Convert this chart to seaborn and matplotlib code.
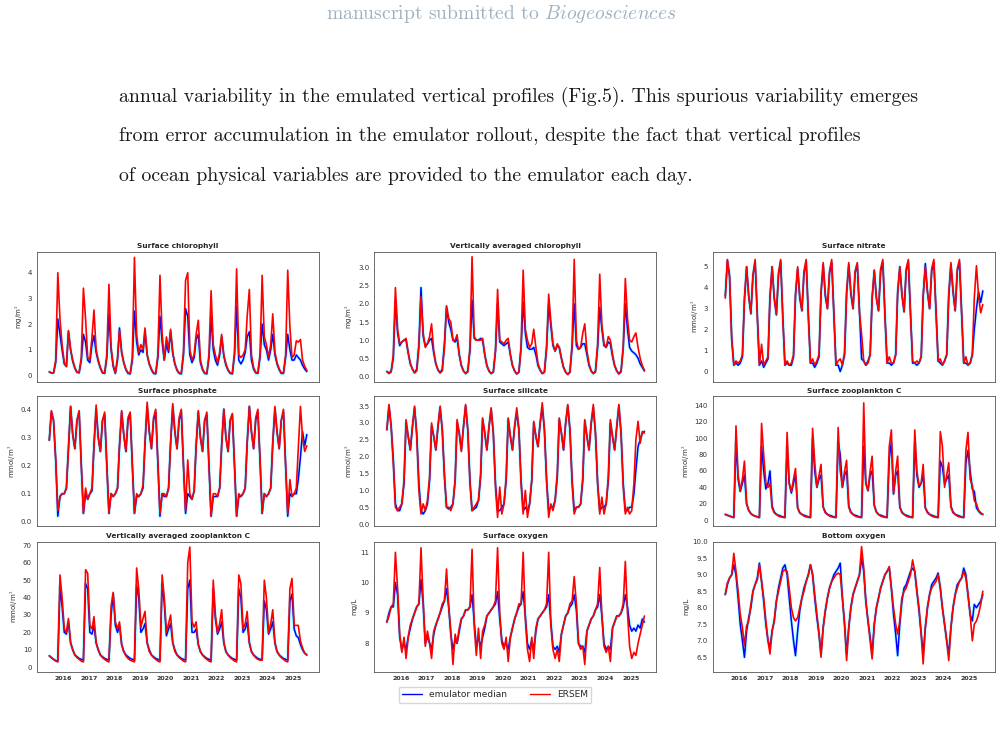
import pandas as pd
import matplotlib
matplotlib.use('Agg')
import matplotlib.pyplot as plt
import matplotlib.dates as mdates
from matplotlib.lines import Line2D
from matplotlib.ticker import MultipleLocator, FixedLocator
import seaborn as sns

# monthly samples (15th of each month), Jun 2015 .. Jul 2025
dates = pd.date_range('2015-06-01', '2025-07-01', freq='MS') + pd.Timedelta(days=14)
tick_years = list(range(2016, 2026))

# each row = Jun .. May, last row = Jun, Jul 2025
chl_surf_ersem = [
    0.13, 0.10, 0.10, 0.6, 4.0, 2.2, 1.2, 0.5, 0.35, 1.75, 1.0, 0.6,
    0.3, 0.13, 0.12, 0.7, 3.4, 2.2, 0.7, 0.6, 1.5, 2.55, 1.0, 0.6,
    0.3, 0.12, 0.1, 0.8, 3.55, 1.1, 0.4, 0.1, 0.7, 1.75, 0.9, 0.5,
    0.25, 0.1, 0.08, 0.7, 4.6, 1.6, 0.9, 1.2, 1.0, 1.85, 0.8, 0.45,
    0.25, 0.1, 0.08, 0.8, 3.9, 1.6, 0.6, 1.5, 1.0, 1.8, 0.9, 0.45,
    0.22, 0.1, 0.08, 0.9, 3.7, 4.0, 1.0, 0.6, 0.8, 1.6, 2.15, 0.6,
    0.25, 0.1, 0.08, 0.8, 3.3, 1.2, 0.8, 0.5, 0.9, 1.6, 0.8, 0.45,
    0.22, 0.1, 0.08, 0.9, 4.15, 0.8, 0.7, 0.8, 1.0, 2.3, 3.35, 0.8,
    0.3, 0.12, 0.1, 0.8, 3.9, 1.5, 1.2, 0.7, 1.2, 2.4, 0.9, 0.5,
    0.25, 0.1, 0.1, 0.8, 4.1, 1.9, 0.7, 0.8, 1.35, 1.3, 1.4, 0.6,
    0.35, 0.2]
chl_surf_emu = [
    0.14, 0.10, 0.10, 0.5, 2.2, 1.6, 1.0, 0.45, 0.35, 1.7, 1.0, 0.55,
    0.28, 0.12, 0.1, 0.6, 1.6, 1.3, 0.6, 0.5, 1.2, 1.55, 0.9, 0.55,
    0.28, 0.1, 0.08, 0.7, 2.4, 1.0, 0.35, 0.08, 0.6, 1.85, 0.9, 0.5,
    0.22, 0.08, 0.06, 0.6, 2.5, 1.3, 0.8, 1.0, 0.9, 1.7, 0.8, 0.45,
    0.22, 0.08, 0.06, 0.7, 2.3, 1.3, 0.6, 1.2, 0.9, 1.7, 0.85, 0.45,
    0.2, 0.08, 0.06, 0.8, 2.6, 2.3, 0.8, 0.5, 0.7, 1.4, 1.6, 0.5,
    0.22, 0.08, 0.06, 0.7, 2.3, 1.0, 0.6, 0.4, 0.8, 1.5, 0.75, 0.4,
    0.2, 0.08, 0.06, 0.8, 2.7, 0.6, 0.45, 0.6, 0.9, 1.5, 1.7, 0.6,
    0.25, 0.1, 0.08, 0.7, 2.0, 1.2, 1.0, 0.6, 1.0, 1.6, 0.8, 0.45,
    0.22, 0.08, 0.08, 0.7, 1.6, 1.0, 0.6, 0.6, 0.8, 0.7, 0.6, 0.4,
    0.25, 0.15]

chl_vert_ersem = [
    0.13, 0.08, 0.12, 0.6, 2.45, 1.3, 0.9, 0.95, 1.0, 1.05, 0.65, 0.35,
    0.2, 0.1, 0.15, 0.8, 2.2, 1.2, 0.8, 0.9, 1.1, 1.45, 0.7, 0.35,
    0.18, 0.1, 0.15, 0.8, 1.95, 1.6, 1.5, 1.0, 1.0, 1.15, 0.6, 0.3,
    0.15, 0.08, 0.12, 0.8, 3.3, 1.1, 1.0, 1.0, 1.0, 1.05, 0.6, 0.3,
    0.15, 0.08, 0.12, 0.7, 2.4, 1.0, 0.95, 0.9, 1.0, 1.05, 0.6, 0.3,
    0.15, 0.07, 0.12, 0.8, 2.93, 1.3, 1.0, 0.8, 0.9, 1.3, 0.8, 0.35,
    0.18, 0.08, 0.12, 0.8, 2.27, 1.5, 0.9, 0.7, 0.9, 0.8, 0.5, 0.25,
    0.12, 0.05, 0.12, 0.9, 3.23, 1.0, 0.75, 0.8, 1.2, 1.45, 0.7, 0.35,
    0.15, 0.08, 0.12, 0.9, 2.82, 1.4, 0.9, 0.8, 1.1, 1.0, 0.6, 0.3,
    0.15, 0.07, 0.12, 0.8, 2.7, 1.6, 1.0, 0.95, 1.1, 1.2, 0.8, 0.5,
    0.3, 0.17]
chl_vert_emu = [
    0.14, 0.09, 0.15, 0.5, 2.1, 1.2, 0.85, 0.95, 1.0, 1.0, 0.65, 0.35,
    0.2, 0.1, 0.2, 0.9, 2.45, 1.1, 0.85, 0.9, 1.0, 1.05, 0.65, 0.35,
    0.18, 0.1, 0.2, 0.9, 1.9, 1.5, 1.3, 1.0, 0.95, 1.05, 0.6, 0.3,
    0.15, 0.08, 0.15, 0.7, 2.1, 1.05, 1.0, 1.0, 1.05, 1.0, 0.6, 0.3,
    0.15, 0.08, 0.12, 0.7, 2.0, 0.95, 0.9, 0.85, 0.9, 0.95, 0.6, 0.3,
    0.15, 0.07, 0.12, 0.8, 2.05, 1.2, 0.8, 0.75, 0.75, 0.8, 0.6, 0.3,
    0.17, 0.08, 0.12, 0.8, 2.0, 1.4, 0.85, 0.7, 0.85, 0.8, 0.5, 0.25,
    0.12, 0.06, 0.12, 0.8, 2.0, 0.85, 0.75, 0.8, 0.9, 0.9, 0.6, 0.3,
    0.15, 0.08, 0.15, 0.8, 1.9, 1.3, 0.85, 0.8, 0.95, 0.9, 0.55, 0.3,
    0.15, 0.07, 0.15, 0.8, 2.0, 1.3, 0.8, 0.7, 0.65, 0.6, 0.5, 0.35,
    0.25, 0.15]

no3_ersem = [
    3.5, 5.35, 4.5, 1.5, 0.3, 0.5, 0.4, 0.5, 0.8, 3.5, 5.0, 3.6,
    2.8, 4.6, 5.35, 2.6, 0.3, 1.3, 0.3, 0.5, 0.7, 3.6, 5.0, 3.5,
    2.75, 4.7, 5.35, 2.5, 0.3, 0.5, 0.3, 0.4, 0.8, 3.7, 5.0, 3.6,
    2.9, 4.8, 5.35, 2.6, 0.4, 0.6, 0.3, 0.5, 0.8, 3.8, 5.2, 3.7,
    3.0, 4.8, 5.35, 2.7, 0.3, 0.5, 0.6, 0.3, 0.9, 3.8, 5.2, 3.8,
    3.0, 4.8, 5.2, 2.8, 1.8, 0.5, 0.3, 0.4, 0.8, 3.5, 4.85, 3.5,
    2.9, 4.9, 5.35, 2.6, 0.4, 0.7, 0.4, 0.4, 0.8, 3.8, 5.0, 3.7,
    2.85, 4.9, 5.35, 2.7, 0.5, 0.4, 0.5, 0.4, 0.7, 3.6, 5.0, 3.8,
    3.0, 4.9, 5.35, 2.8, 0.5, 0.6, 0.3, 0.5, 0.8, 3.7, 5.2, 3.9,
    2.9, 4.9, 5.35, 2.8, 0.4, 0.7, 0.3, 0.4, 0.8, 3.5, 5.05, 3.6,
    2.8, 3.2]
no3_emu = [
    3.6, 5.3, 4.6, 1.6, 0.3, 0.4, 0.3, 0.4, 0.7, 3.4, 5.0, 3.6,
    2.75, 4.6, 5.2, 2.7, 0.3, 0.5, 0.2, 0.4, 0.6, 3.5, 5.0, 3.5,
    2.7, 4.6, 5.25, 2.6, 0.3, 0.4, 0.3, 0.3, 0.7, 3.6, 4.9, 3.5,
    2.9, 4.7, 5.2, 2.7, 0.4, 0.4, 0.2, 0.4, 0.7, 3.7, 5.1, 3.6,
    3.0, 4.7, 5.2, 2.8, 0.3, 0.3, 0.0, 0.3, 0.8, 3.7, 5.1, 3.7,
    3.0, 4.7, 5.1, 2.9, 0.6, 0.5, 0.3, 0.5, 0.8, 3.5, 4.8, 3.5,
    2.9, 4.8, 5.2, 2.7, 0.4, 0.4, 0.3, 0.4, 0.8, 3.7, 5.0, 3.7,
    2.85, 4.8, 5.2, 2.8, 0.4, 0.4, 0.3, 0.4, 0.7, 3.6, 5.15, 3.8,
    3.0, 4.8, 5.2, 2.9, 0.5, 0.4, 0.3, 0.5, 0.8, 3.6, 5.1, 3.8,
    2.9, 4.8, 5.2, 2.8, 0.4, 0.4, 0.3, 0.4, 0.8, 2.0, 3.0, 3.8,
    3.3, 3.85]

po4_ersem = [
    0.29, 0.395, 0.36, 0.22, 0.04, 0.09, 0.1, 0.1, 0.12, 0.26, 0.41, 0.31,
    0.26, 0.36, 0.395, 0.2, 0.03, 0.12, 0.08, 0.1, 0.12, 0.27, 0.415, 0.3,
    0.25, 0.36, 0.39, 0.2, 0.03, 0.1, 0.09, 0.1, 0.12, 0.27, 0.395, 0.31,
    0.25, 0.37, 0.39, 0.2, 0.03, 0.1, 0.09, 0.1, 0.13, 0.28, 0.425, 0.32,
    0.26, 0.37, 0.40, 0.21, 0.03, 0.1, 0.1, 0.09, 0.12, 0.28, 0.42, 0.32,
    0.26, 0.37, 0.40, 0.2, 0.04, 0.22, 0.1, 0.08, 0.11, 0.27, 0.395, 0.3,
    0.25, 0.36, 0.39, 0.2, 0.02, 0.1, 0.1, 0.09, 0.12, 0.27, 0.40, 0.3,
    0.25, 0.36, 0.385, 0.2, 0.02, 0.1, 0.09, 0.1, 0.12, 0.28, 0.41, 0.32,
    0.26, 0.37, 0.40, 0.22, 0.03, 0.1, 0.09, 0.1, 0.12, 0.28, 0.41, 0.32,
    0.26, 0.36, 0.40, 0.2, 0.03, 0.15, 0.09, 0.1, 0.12, 0.26, 0.41, 0.3,
    0.25, 0.27]
po4_emu = [
    0.29, 0.39, 0.36, 0.22, 0.02, 0.09, 0.1, 0.1, 0.12, 0.26, 0.41, 0.31,
    0.26, 0.36, 0.39, 0.2, 0.03, 0.1, 0.08, 0.1, 0.11, 0.27, 0.40, 0.3,
    0.25, 0.36, 0.38, 0.2, 0.03, 0.1, 0.09, 0.1, 0.12, 0.27, 0.39, 0.31,
    0.25, 0.36, 0.38, 0.2, 0.03, 0.09, 0.09, 0.1, 0.12, 0.28, 0.41, 0.32,
    0.26, 0.36, 0.39, 0.21, 0.02, 0.1, 0.09, 0.09, 0.12, 0.28, 0.41, 0.32,
    0.26, 0.36, 0.39, 0.2, 0.03, 0.1, 0.09, 0.08, 0.11, 0.27, 0.39, 0.3,
    0.25, 0.36, 0.38, 0.2, 0.02, 0.09, 0.09, 0.09, 0.12, 0.27, 0.40, 0.3,
    0.25, 0.36, 0.38, 0.2, 0.02, 0.09, 0.09, 0.1, 0.12, 0.28, 0.41, 0.32,
    0.26, 0.36, 0.39, 0.22, 0.03, 0.1, 0.09, 0.1, 0.12, 0.28, 0.40, 0.32,
    0.26, 0.36, 0.39, 0.2, 0.02, 0.1, 0.09, 0.1, 0.1, 0.15, 0.23, 0.32,
    0.27, 0.31]

si_ersem = [
    2.8, 3.55, 2.9, 1.8, 0.5, 0.4, 0.5, 0.6, 1.3, 3.1, 2.6, 2.2,
    2.9, 3.5, 2.6, 1.0, 0.3, 0.6, 0.4, 0.7, 1.4, 3.0, 2.6, 2.2,
    2.9, 3.5, 2.8, 1.5, 0.5, 0.5, 0.4, 0.6, 1.3, 3.1, 2.7, 2.15,
    2.9, 3.55, 2.8, 1.2, 0.4, 0.5, 0.6, 0.7, 1.5, 3.15, 2.7, 2.2,
    2.9, 3.45, 2.7, 1.1, 0.2, 1.1, 0.3, 0.6, 1.4, 3.15, 2.6, 2.2,
    2.9, 3.45, 2.8, 1.2, 0.3, 1.0, 0.2, 0.6, 1.3, 3.05, 2.6, 2.3,
    3.0, 3.6, 2.8, 1.3, 0.2, 0.6, 0.4, 0.7, 1.5, 3.15, 2.7, 2.2,
    3.0, 3.55, 2.8, 1.2, 0.3, 0.5, 0.5, 0.6, 1.4, 3.1, 2.6, 2.2,
    3.0, 3.55, 2.7, 1.2, 0.3, 0.8, 0.3, 0.6, 1.4, 3.1, 2.6, 2.2,
    2.9, 3.55, 2.7, 1.1, 0.3, 0.5, 0.3, 0.4, 1.2, 2.5, 3.05, 2.4,
    2.75, 2.7]
si_emu = [
    2.8, 3.5, 2.9, 1.9, 0.6, 0.4, 0.4, 0.6, 1.2, 3.0, 2.6, 2.2,
    2.9, 3.45, 2.7, 1.2, 0.4, 0.3, 0.4, 0.6, 1.3, 2.9, 2.6, 2.2,
    2.9, 3.45, 2.8, 1.4, 0.5, 0.45, 0.5, 0.6, 1.3, 3.0, 2.7, 2.2,
    2.9, 3.5, 2.8, 1.3, 0.4, 0.45, 0.5, 0.7, 1.4, 3.1, 2.7, 2.2,
    2.9, 3.4, 2.7, 1.2, 0.4, 0.4, 0.5, 0.6, 1.3, 3.1, 2.6, 2.2,
    2.9, 3.3, 2.8, 1.3, 0.4, 0.5, 0.4, 0.6, 1.3, 3.0, 2.6, 2.3,
    3.0, 3.45, 2.8, 1.3, 0.4, 0.5, 0.5, 0.7, 1.4, 3.1, 2.7, 2.2,
    3.0, 3.5, 2.8, 1.3, 0.4, 0.5, 0.5, 0.6, 1.3, 3.05, 2.6, 2.2,
    3.0, 3.45, 2.7, 1.2, 0.4, 0.5, 0.5, 0.6, 1.3, 3.0, 2.6, 2.2,
    2.9, 3.5, 2.7, 1.2, 0.4, 0.4, 0.5, 0.5, 0.9, 1.6, 2.3, 2.5,
    2.7, 2.75]

zoo_surf_ersem = [
    7, 6, 5, 4, 3, 115, 55, 36, 50, 72, 20, 12,
    8, 6, 5, 4, 3, 118, 80, 45, 40, 45, 15, 9,
    7, 5, 4, 3.5, 3, 107, 45, 35, 50, 63, 15, 9,
    7, 5, 4, 3.5, 3, 112, 70, 40, 55, 68, 16, 9,
    7, 5, 4, 3.5, 3, 113, 60, 40, 60, 73, 16, 9,
    7, 5, 4, 3.5, 3, 143, 45, 36, 60, 78, 18, 10,
    7, 5, 4, 3.5, 3, 90, 110, 32, 60, 78, 16, 9,
    7, 5, 4, 3.5, 3, 110, 60, 42, 45, 68, 15, 9,
    7, 5, 4, 3.5, 3, 108, 90, 40, 55, 70, 16, 9,
    7, 5, 4, 3.5, 3, 85, 107, 50, 42, 24, 20, 12,
    9, 7]
zoo_surf_emu = [
    7, 6, 5, 4, 3.5, 95, 50, 35, 45, 55, 20, 12,
    8, 6, 5, 4, 3.5, 90, 60, 38, 45, 60, 17, 10,
    7, 6, 5, 4, 3.5, 90, 45, 33, 45, 55, 15, 9,
    7, 6, 5, 4, 3.5, 100, 60, 40, 50, 55, 16, 10,
    7, 6, 5, 4, 3.5, 95, 80, 40, 55, 60, 17, 10,
    7, 6, 5, 4, 3.5, 90, 45, 36, 55, 60, 18, 10,
    7, 6, 5, 4, 3.5, 75, 95, 32, 55, 60, 16, 10,
    7, 6, 5, 4, 3.5, 95, 55, 40, 45, 55, 15, 10,
    7, 6, 5, 4, 3.5, 72, 65, 45, 50, 55, 17, 10,
    7, 6, 5, 4, 3.5, 70, 85, 60, 38, 35, 15, 11,
    8, 7]

zoo_vert_ersem = [
    6.5, 5.5, 4.5, 3.5, 3, 53, 40, 22, 20, 28, 14, 10,
    7, 5.5, 4.5, 3.5, 3, 56, 54, 24, 22, 29, 14, 10,
    7, 5.5, 4.5, 3.5, 3, 35, 43, 26, 22, 26, 13, 9,
    6.5, 5, 4, 3.5, 3, 57, 45, 23, 28, 32, 14, 9,
    7, 5.5, 4.5, 3.5, 3, 53, 40, 20, 25, 30, 14, 9,
    7, 5.5, 4.5, 3.5, 3, 60, 69, 26, 23, 26, 13, 9,
    7, 5.5, 4.5, 3.5, 3, 50, 30, 20, 25, 33, 14, 9,
    7, 5.5, 4.5, 3.5, 3, 53, 48, 22, 25, 32, 14, 9,
    7, 5.5, 4.5, 4, 4, 50, 40, 20, 25, 33, 14, 9,
    7, 5.5, 4.5, 3.5, 3, 45, 51, 24, 24, 24, 15, 11,
    8, 7]
zoo_vert_emu = [
    6.5, 5.5, 4.5, 3.8, 3.5, 46, 35, 20, 19, 26, 14, 10,
    7, 6, 5, 4.5, 4, 48, 45, 20, 19, 24, 14, 10,
    7, 6, 5, 4.5, 4, 30, 42, 24, 20, 24, 13, 9,
    7, 6, 5, 4.5, 4, 47, 40, 20, 22, 25, 14, 10,
    7, 6, 5, 4.5, 4, 48, 37, 18, 22, 25, 14, 10,
    7, 6, 5, 4.5, 4, 45, 50, 20, 20, 22, 13, 9,
    7, 6, 5, 4.5, 4, 45, 28, 19, 22, 26, 14, 9,
    7, 6, 5, 4.5, 4, 45, 40, 20, 22, 26, 14, 9,
    7, 6, 5, 4.5, 4.5, 38, 33, 19, 22, 26, 14, 9,
    7, 6, 5, 4.5, 4, 38, 42, 22, 18, 17, 13, 10,
    8, 7]

o2_surf_ersem = [
    8.7, 8.9, 9.2, 9.3, 11.0, 9.8, 8.3, 7.7, 8.2, 7.5, 8.2, 8.6,
    8.8, 9.0, 9.2, 9.3, 11.15, 9.4, 7.9, 8.4, 8.0, 7.5, 8.4, 8.6,
    8.8, 9.0, 9.3, 9.4, 10.45, 9.2, 8.4, 7.3, 8.3, 8.0, 8.5, 8.8,
    8.9, 9.1, 9.1, 9.2, 11.1, 8.6, 7.6, 8.5, 7.5, 8.4, 8.6, 8.9,
    9.0, 9.1, 9.2, 9.4, 11.15, 9.0, 8.0, 7.8, 8.2, 7.4, 8.2, 8.5,
    8.8, 9.0, 9.3, 9.3, 11.0, 8.8, 7.8, 7.4, 8.2, 7.5, 8.5, 8.8,
    8.9, 9.0, 9.1, 9.3, 11.0, 8.6, 7.8, 7.5, 7.8, 7.4, 8.3, 8.6,
    8.9, 9.0, 9.3, 9.4, 10.2, 9.3, 8.0, 7.8, 7.9, 7.3, 8.4, 8.6,
    8.8, 8.9, 9.1, 9.3, 10.5, 8.9, 7.9, 7.7, 7.9, 7.4, 8.5, 8.7,
    8.9, 8.9, 9.0, 9.3, 10.7, 9.0, 7.9, 7.5, 7.7, 7.6, 8.0, 8.3,
    8.6, 8.9]
o2_surf_emu = [
    8.7, 9.0, 9.2, 9.2, 10.0, 9.6, 8.2, 7.8, 8.0, 7.8, 8.2, 8.5,
    8.8, 9.0, 9.2, 9.3, 10.1, 9.3, 8.0, 8.2, 8.0, 7.8, 8.3, 8.6,
    8.8, 9.0, 9.2, 9.4, 9.8, 9.2, 8.3, 7.8, 8.1, 8.0, 8.4, 8.8,
    8.9, 9.1, 9.1, 9.2, 9.6, 8.7, 7.9, 8.2, 7.9, 8.2, 8.5, 8.9,
    9.0, 9.1, 9.2, 9.3, 9.7, 8.8, 8.1, 7.9, 8.0, 7.8, 8.2, 8.5,
    8.8, 9.0, 9.2, 9.3, 9.7, 8.9, 8.0, 7.8, 8.1, 7.8, 8.4, 8.8,
    8.9, 9.0, 9.1, 9.2, 9.6, 8.7, 7.9, 7.8, 7.9, 7.7, 8.3, 8.6,
    8.9, 9.0, 9.2, 9.3, 9.6, 9.1, 8.0, 7.9, 7.9, 7.7, 8.4, 8.6,
    8.8, 8.9, 9.1, 9.2, 9.6, 8.9, 8.0, 7.8, 7.9, 7.8, 8.5, 8.7,
    8.9, 8.9, 9.0, 9.2, 9.6, 9.2, 8.6, 8.4, 8.5, 8.4, 8.6, 8.5,
    8.8, 8.7]

o2_bot_ersem = [
    8.4, 8.75, 8.9, 9.0, 9.65, 9.1, 8.5, 7.8, 7.4, 6.85, 7.45, 7.6,
    8.1, 8.5, 8.7, 8.85, 9.3, 8.8, 8.3, 7.6, 7.0, 6.6, 7.3, 7.6,
    8.2, 8.5, 8.8, 9.1, 9.15, 9.1, 8.6, 8.0, 7.7, 7.6, 7.7, 8.0,
    8.3, 8.5, 8.8, 9.0, 9.3, 9.0, 8.4, 7.8, 7.2, 6.5, 7.4, 7.9,
    8.3, 8.6, 8.8, 8.9, 9.0, 9.05, 9.0, 8.3, 7.5, 6.4, 7.4, 8.0,
    8.4, 8.6, 8.8, 9.0, 9.85, 9.2, 8.2, 7.6, 7.0, 6.45, 7.5, 8.0,
    8.3, 8.6, 8.8, 9.0, 9.1, 9.25, 8.6, 8.0, 7.5, 7.2, 7.6, 8.3,
    8.5, 8.6, 8.8, 9.0, 9.45, 9.1, 8.5, 8.0, 7.2, 6.3, 7.4, 8.0,
    8.4, 8.6, 8.7, 8.8, 9.0, 8.6, 8.0, 7.5, 7.0, 6.4, 7.4, 8.0,
    8.4, 8.6, 8.8, 8.9, 9.1, 8.9, 8.4, 7.8, 7.0, 7.5, 7.6, 7.8,
    8.1, 8.5]
o2_bot_emu = [
    8.4, 8.7, 8.9, 9.0, 9.3, 9.0, 8.3, 7.5, 7.0, 6.5, 7.3, 7.7,
    8.0, 8.5, 8.7, 8.9, 9.35, 8.8, 8.2, 7.5, 7.0, 6.8, 7.3, 7.6,
    8.2, 8.6, 8.9, 9.2, 9.3, 9.0, 8.3, 7.6, 7.0, 6.55, 7.3, 7.9,
    8.3, 8.6, 8.8, 9.0, 9.3, 9.0, 8.3, 7.7, 7.2, 6.6, 7.4, 7.9,
    8.3, 8.6, 8.8, 9.0, 9.1, 9.2, 9.35, 8.3, 7.5, 6.6, 7.4, 8.0,
    8.4, 8.6, 8.8, 9.0, 9.5, 9.1, 8.2, 7.6, 7.1, 6.6, 7.5, 8.0,
    8.3, 8.6, 8.8, 9.0, 9.1, 9.2, 8.6, 7.8, 7.2, 6.55, 7.5, 8.2,
    8.6, 8.7, 8.9, 9.1, 9.2, 9.1, 8.5, 7.9, 7.2, 6.6, 7.4, 8.0,
    8.4, 8.7, 8.8, 8.9, 9.05, 8.6, 8.0, 7.5, 7.0, 6.6, 7.4, 8.0,
    8.4, 8.7, 8.8, 8.9, 9.2, 9.0, 8.4, 7.8, 7.6, 8.1, 8.0, 8.1,
    8.2, 8.4]

# title, y label, emulator, ERSEM, y limits, tick step
panels = [
    ('Surface chlorophyll', 'mg/m$^3$', chl_surf_emu, chl_surf_ersem, (-0.235, 4.82), 1),
    ('Vertically averaged chlorophyll', 'mg/m$^3$', chl_vert_emu, chl_vert_ersem, (-0.14, 3.44), 0.5),
    ('Surface nitrate', 'mmol/m$^3$', no3_emu, no3_ersem, (-0.48, 5.72), 1),
    ('Surface phosphate', 'mmol/m$^3$', po4_emu, po4_ersem, (-0.014, 0.447), 0.1),
    ('Surface silicate', 'mmol/m$^3$', si_emu, si_ersem, (-0.05, 3.80), 0.5),
    ('Surface zooplankton C', 'mmol/m$^3$', zoo_surf_emu, zoo_surf_ersem, (-6.9, 151.4), 20),
    ('Vertically averaged zooplankton C', 'mmol/m$^3$', zoo_vert_emu, zoo_vert_ersem, (-2.5, 72.1), 10),
    ('Surface oxygen', 'mg/L', o2_surf_emu, o2_surf_ersem, (7.07, 11.35), 1),
    ('Bottom oxygen', 'mg/L', o2_bot_emu, o2_bot_ersem, (6.07, 10.0), 0.5),
]

sns.set_style('white')
plt.rcParams['font.family'] = ['DejaVu Sans']
plt.rcParams['mathtext.fontset'] = 'cm'

W, H = 1002, 754
fig = plt.figure(figsize=(W / 100, H / 100), dpi=100)

col_left = [36.7, 374.3, 712.7]
row_top = [251.7, 396.0, 541.7]
aw, ah = 282, 129.8

axes = []
for i, (title, ylab, emu, ersem, ylim, step) in enumerate(panels):
    r, c = divmod(i, 3)
    ax = fig.add_axes([col_left[c] / W, 1 - (row_top[r] + ah) / H, aw / W, ah / H],
                      sharex=axes[0] if axes else None)
    axes.append(ax)
    sns.lineplot(x=dates, y=emu, ax=ax, color='cyan', lw=2.4, alpha=0.35)
    sns.lineplot(x=dates, y=emu, ax=ax, color='blue', lw=1.1)
    sns.lineplot(x=dates, y=ersem, ax=ax, color='red', lw=1.2)
    ax.set_ylim(*ylim)
    ax.yaxis.set_major_locator(MultipleLocator(step))
    ax.set_title(title, fontsize=5.3, fontweight='bold', pad=2.5)
    ax.set_ylabel(ylab, fontsize=5, labelpad=2, color='#333333')
    ax.set_xlabel('')
    ax.tick_params(axis='both', length=2, width=0.5, pad=1.5, colors='#333333')
    ax.tick_params(axis='y', labelsize=5)
    ax.tick_params(axis='x', labelsize=4.5)
    for s in ax.spines.values():
        s.set_color('#555555')
        s.set_linewidth(0.6)
    if r < 2:
        ax.tick_params(axis='x', labelbottom=False)

axes[0].xaxis.set_major_locator(
    FixedLocator([mdates.date2num(pd.Timestamp(f'{y}-01-01')) for y in tick_years]))
axes[0].xaxis.set_major_formatter(mdates.DateFormatter('%Y'))
axes[0].set_xlim(pd.Timestamp('2014-12-17'), pd.Timestamp('2026-01-01'))
for ax in axes[6:]:
    for lab in ax.get_xticklabels():
        lab.set_fontweight('bold')

handles = [Line2D([], [], color='blue', lw=1.0), Line2D([], [], color='red', lw=1.0)]
fig.legend(handles, ['emulator median', 'ERSEM'], loc='upper center',
           bbox_to_anchor=(495 / W, 1 - 682 / H), ncol=2, fontsize=6.5,
           handlelength=2.2, columnspacing=2.5, borderpad=0.4, frameon=True)

# page text around the figure
header = fig.text(0.5, 1 - 14 / H, 'manuscript submitted to $\\mathit{Biogeosciences}$',
                  ha='center', va='center', color='#a0b0bf', fontfamily='cmr10', fontsize=12)
lines = [
    'annual variability in the emulated vertical profiles (Fig.5). This spurious variability emerges',
    'from error accumulation in the emulator rollout, despite the fact that vertical profiles',
    'of ocean physical variables are provided to the emulator each day.',
]
line_y = [97, 136, 176]
texts = [fig.text(119 / W, 1 - y / H, s, ha='left', va='center', color='#1a1a1a',
                  fontfamily='cmr10', fontsize=13) for s, y in zip(lines, line_y)]

fig.canvas.draw()
rend = fig.canvas.get_renderer()
k = 804 / texts[0].get_window_extent(rend).width
for t in texts:
    t.set_fontsize(13 * k)
header.set_fontsize(12 * 351 / header.get_window_extent(rend).width)

fig.savefig('out.png', dpi=100)
